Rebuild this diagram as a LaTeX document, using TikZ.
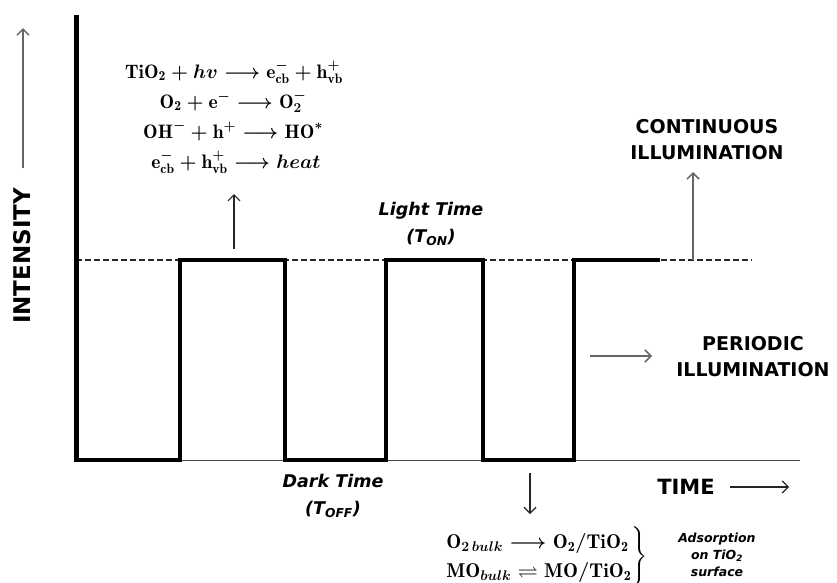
\RequirePackage{fix-cm}
\documentclass[tikz,border=0pt]{standalone}
\usepackage{amsmath,amssymb}
\usepackage{fontspec}
\newfontfamily\labfont{DejaVu Sans}
\usetikzlibrary{arrows.meta}
\begin{document}
\begin{tikzpicture}[x=1pt,y=-1pt,
  eq/.style={anchor=base,inner sep=0pt,font=\fontsize{19.5}{23}\selectfont\boldmath},
  biglab/.style={align=center,inner sep=0pt,font=\labfont\bfseries\fontsize{19}{26}\selectfont},
  itlab/.style={align=center,inner sep=0pt,font=\labfont\bfseries\itshape\fontsize{17.5}{27}\selectfont},
  wave/.style={line width=4.6pt,black,line join=miter},
  grayarrow/.style={line width=1.5pt,gray!80!black,-{Straight Barb[length=6pt,width=12pt,line width=1.5pt]}},
  blackarrow/.style={line width=1.2pt,black!85,-{Straight Barb[length=6pt,width=12pt,line width=1.2pt]}}]
\useasboundingbox (0,0) rectangle (837,582);
% axes
\draw[line width=1pt,gray!60!black] (76,460) -- (800,460);
\draw[line width=1.8pt,black!85,dash pattern=on 6pt off 3pt] (76,260) -- (752,260);
\draw[wave] (76,460) -- (180,460) -- (180,260) -- (285,260) -- (285,460) -- (386,460) -- (386,260) -- (483,260) -- (483,460) -- (574,460) -- (574,260) -- (660,260);
\draw[line width=5pt,black] (76,15) -- (76,462);
% intensity
\node[rotate=90,inner sep=0pt,font=\labfont\bfseries\fontsize{23}{26}\selectfont] (int) at (22,256) {INTENSITY};
\coordinate (ia) at (23,168); \coordinate (ib) at (23,28);
\draw[grayarrow] (ia) -- (ib);
% top equations
\node[eq] (e1) at (234,78) {$\mathrm{TiO_2} + hv \longrightarrow \mathrm{e}^{-}_{\mathrm{cb}} + \mathrm{h}^{+}_{\mathrm{vb}}$};
\node[eq] (e2) at (233,108) {$\mathrm{O_2} + \mathrm{e}^{-} \longrightarrow \mathrm{O}_2^{-}$};
\node[eq] (e3) at (233,138) {$\mathrm{OH}^{-} + \mathrm{h}^{+} \longrightarrow \mathrm{HO}^{\ast}$};
\node[eq] (e4) at (236,168) {$\mathrm{e}^{-}_{\mathrm{cb}} + \mathrm{h}^{+}_{\mathrm{vb}} \longrightarrow heat$};
\coordinate (ea) at (234,249); \coordinate (eb) at (234,194);
\draw[blackarrow] (ea) -- (eb);
% light time
\node[itlab] (light) at (431,224) {Light Time\\(T\textsubscript{ON})};
% dark time
\node[itlab] (dark) at (333,496) {Dark Time\\(T\textsubscript{OFF})};
% continuous
\node[biglab] (cont) at (707,140) {CONTINUOUS\\ILLUMINATION};
\coordinate (ca) at (693,260); \coordinate (cb) at (693,172);
\draw[grayarrow] (ca) -- (cb);
% periodic
\node[biglab] (per) at (753,357) {PERIODIC\\ILLUMINATION};
\coordinate (pa) at (590,356); \coordinate (pb) at (652,356);
\draw[grayarrow] (pa) -- (pb);
% time
\node[inner sep=0pt,font=\labfont\bfseries\fontsize{21}{24}\selectfont] (time) at (686,487) {TIME};
\coordinate (ta) at (730,487); \coordinate (tb) at (789,487);
\draw[blackarrow] (ta) -- (tb);
% down arrow and adsorption
\coordinate (da) at (530,473); \coordinate (db) at (530,514);
\draw[blackarrow] (da) -- (db);
\node[inner sep=0pt,anchor=west,font=\fontsize{20}{24}\selectfont\boldmath] (ads) at (445,557)
  {$\renewcommand{\arraystretch}{1.2}\left.\begin{array}{@{}l@{}}
   \mathrm{O}_{2\,bulk} \longrightarrow \mathrm{O_2/TiO_2}\\
   \mathrm{MO}_{bulk} \rightleftharpoons \mathrm{MO/TiO_2}
   \end{array}\right\}$};
\node[align=center,inner sep=0pt,font=\labfont\bfseries\itshape\fontsize{12.5}{17}\selectfont] (adst) at (717,555)
  {Adsorption\\on TiO\textsubscript{2}\\surface};
\end{tikzpicture}
\end{document}
